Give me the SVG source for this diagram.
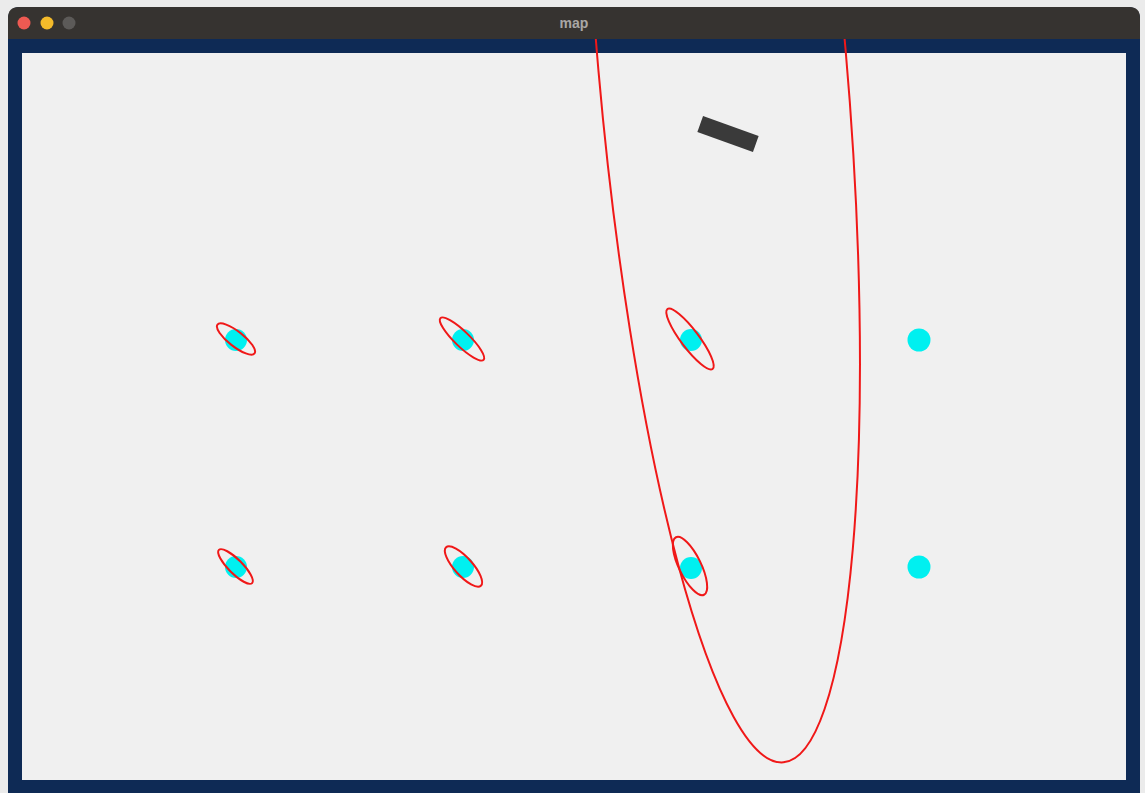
<svg xmlns="http://www.w3.org/2000/svg" width="1145" height="793" viewBox="0 0 1145 793">
  <style>
    .lm { fill: #00f0f0; }
    .cov { fill: none; stroke: #f01818; stroke-width: 2; }
    .title { font-family: "Liberation Sans", Arial, sans-serif; font-size: 14px; font-weight: bold; fill: #a9a7a5; }
  </style>
  <defs>
    <clipPath id="winClip">
      <rect x="8" y="39" width="1132" height="754"/>
    </clipPath>
  </defs>
  <rect x="0" y="0" width="1145" height="793" fill="#ebebeb"/>
  <g id="window">
    <rect x="8" y="7" width="1132" height="800" rx="11" fill="#0e2a55"/>
    <rect x="22" y="53" width="1104" height="727" fill="#f0f0f0"/>
  </g>
  <g id="landmarks">
    <g id="lm1"><circle class="lm" cx="236" cy="340" r="11"/><ellipse class="cov" cx="236" cy="339" rx="23.5" ry="7.5" transform="rotate(38 236 339)"/></g>
    <g id="lm2"><circle class="lm" cx="463" cy="340" r="11"/><ellipse class="cov" cx="462" cy="339" rx="30" ry="7.5" transform="rotate(44 462 339)"/></g>
    <g id="lm3"><circle class="lm" cx="691" cy="340" r="11"/><ellipse class="cov" cx="690" cy="339" rx="37.5" ry="9" transform="rotate(53 690 339)"/></g>
    <g id="lm4"><circle class="lm" cx="919" cy="340" r="11.5"/></g>
    <g id="lm5"><circle class="lm" cx="236" cy="567" r="11"/><ellipse class="cov" cx="235.5" cy="566.5" rx="23.5" ry="7" transform="rotate(45 235.5 566.5)"/></g>
    <g id="lm6"><circle class="lm" cx="463" cy="567" r="11"/><ellipse class="cov" cx="463.5" cy="566.5" rx="26" ry="9" transform="rotate(48 463.5 566.5)"/></g>
    <g id="lm7"><circle class="lm" cx="691" cy="568" r="11"/><ellipse class="cov" cx="690" cy="566" rx="32" ry="11" transform="rotate(64 690 566)"/></g>
    <g id="lm8"><circle class="lm" cx="919" cy="567" r="11.5"/></g>
  </g>
  <g id="robot">
    <rect x="698.5" y="125.5" width="59" height="17" fill="#3a3a3a" transform="rotate(19.6 728 134)"/>
  </g>
  <g id="robot-covariance" clip-path="url(#winClip)">
    <ellipse class="cov" cx="722" cy="60" rx="124" ry="705" transform="rotate(-5 722 60)"/>
  </g>
  <g id="titlebar">
    <path d="M8 39 V18 Q8 7 19 7 H1129 Q1140 7 1140 18 V39 Z" fill="#363330"/>
    <circle cx="24" cy="23" r="6.5" fill="#ee5a52"/>
    <circle cx="47" cy="23" r="6.5" fill="#f4bb2a"/>
    <circle cx="69" cy="23" r="6.5" fill="#5c5a58"/>
    <text class="title" x="574" y="28" text-anchor="middle">map</text>
  </g>
</svg>
